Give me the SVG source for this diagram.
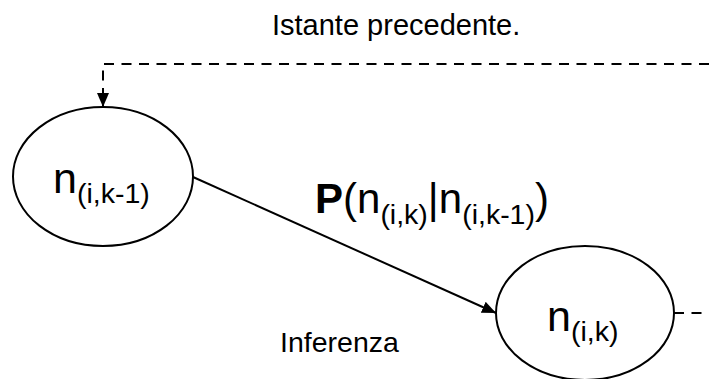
<svg xmlns="http://www.w3.org/2000/svg" width="709" height="379" viewBox="0 0 709 379">
<defs>
<marker id="ah" viewBox="0 0 14 12" refX="14" refY="6" markerWidth="14" markerHeight="12" markerUnits="userSpaceOnUse" orient="auto">
<path d="M0,0 L14,6 L0,12 Z" fill="#000"/>
</marker>
</defs>
<style>
.node{fill:#fff;stroke:#000;stroke-width:2}
.t{font-family:"Liberation Sans",Arial,sans-serif;fill:#000}
.edge{fill:none;stroke:#000;stroke-width:2}
.dash{stroke-dasharray:10 7.5}
</style>
<rect width="709" height="379" fill="#fff"/>
<g id="connectors">
<path class="edge dash" d="M709,64 H103 V94" />
<path class="edge" d="M103,94 V107" marker-end="url(#ah)" stroke-width="0"/>
<line class="edge" x1="193" y1="177" x2="496" y2="313" marker-end="url(#ah)"/>
<line class="edge dash" x1="674" y1="313" x2="709" y2="313"/>
</g>
<g id="node-prev">
<ellipse class="node" cx="103" cy="176.5" rx="90" ry="69.5"/>
<text class="t" x="53" y="193" font-size="43">n<tspan font-size="28.5" dy="10">(i,k-1)</tspan></text>
</g>
<g id="node-curr">
<ellipse class="node" cx="585" cy="313" rx="89" ry="67"/>
<text class="t" x="547" y="331" font-size="43">n<tspan font-size="28.5" dy="10">(i,k)</tspan></text>
</g>
<g id="labels">
<text class="t" x="272" y="35" font-size="29">Istante precedente.</text>
<text class="t" x="280" y="352" font-size="28.5">Inferenza</text>
<text class="t" x="315" y="213" font-size="42"><tspan font-weight="bold">P</tspan>(n<tspan font-size="28.5" dy="11">(i,k)</tspan><tspan dy="-11">|n</tspan><tspan font-size="28.5" dy="11">(i,k-1)</tspan><tspan dy="-11">)</tspan></text>
</g>
</svg>
